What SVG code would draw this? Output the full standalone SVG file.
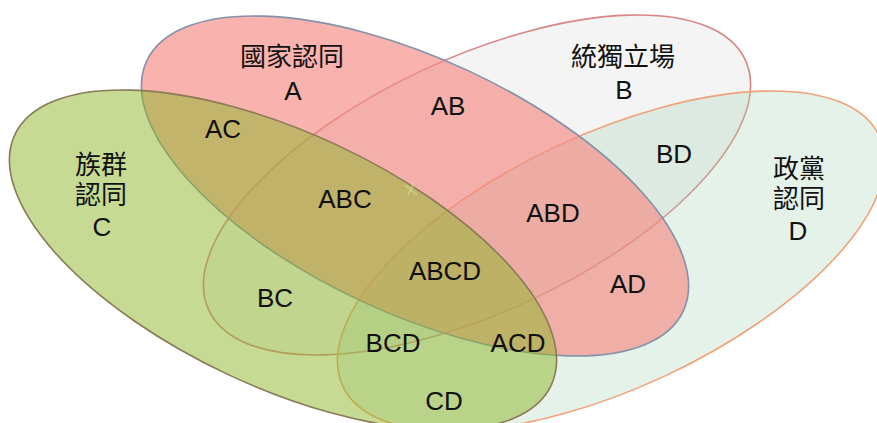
<svg xmlns="http://www.w3.org/2000/svg" width="877" height="423" viewBox="0 0 877 423">
<style>
.lbl{font-family:"Liberation Sans","Noto Sans CJK TC",sans-serif;font-size:26px;fill:#111;text-anchor:middle}
.cjk{font-family:"Noto Sans CJK TC","Liberation Sans",sans-serif;font-size:26px;fill:#111;text-anchor:middle}
.set{stroke-width:1.6}
</style>
<rect width="877" height="423" fill="#ffffff"/>
<g id="set-B">
<ellipse class="set" cx="477" cy="185" rx="296" ry="127" transform="rotate(-25 477 185)" fill="#f4f4f4" stroke="#d98585"/>
</g>
<g id="set-D">
<ellipse class="set" cx="611" cy="261" rx="296" ry="127" transform="rotate(-25 611 261)" fill="#a8d4b6" fill-opacity="0.3" stroke="#f0a27a"/>
</g>
<g id="set-A">
<ellipse class="set" cx="415" cy="186" rx="296" ry="127" transform="rotate(25 415 186)" fill="#f48a82" fill-opacity="0.65" stroke="#8392aa"/>
</g>
<g id="set-C">
<ellipse class="set" cx="283" cy="260" rx="296" ry="127" transform="rotate(25 283 260)" fill="#8db527" fill-opacity="0.5" stroke="#8a7a58"/>
</g>
<g id="mark" stroke="#d6e6a0" stroke-width="1.5" fill="none" opacity="0.6">
<path d="M405 185 L417 195 M408 195 L414 183"/>
</g>
<g id="labels">
<text class="cjk" x="292" y="66">國家認同</text>
<text class="lbl" x="293" y="100">A</text>
<text class="cjk" x="623" y="66">統獨立場</text>
<text class="lbl" x="624" y="99">B</text>
<text class="lbl" x="101" y="174">族群<tspan x="101" dy="30">認同</tspan><tspan x="102" dy="32">C</tspan></text>
<text class="lbl" x="799" y="178">政黨<tspan x="799" dy="30">認同</tspan><tspan x="798" dy="32">D</tspan></text>
<text class="lbl" x="223" y="138">AC</text>
<text class="lbl" x="448" y="115">AB</text>
<text class="lbl" x="674" y="163">BD</text>
<text class="lbl" x="345" y="208">ABC</text>
<text class="lbl" x="553" y="222">ABD</text>
<text class="lbl" x="445" y="280">ABCD</text>
<text class="lbl" x="628" y="293">AD</text>
<text class="lbl" x="275" y="307">BC</text>
<text class="lbl" x="393" y="352">BCD</text>
<text class="lbl" x="518" y="352">ACD</text>
<text class="lbl" x="444" y="410">CD</text>
</g>
</svg>
